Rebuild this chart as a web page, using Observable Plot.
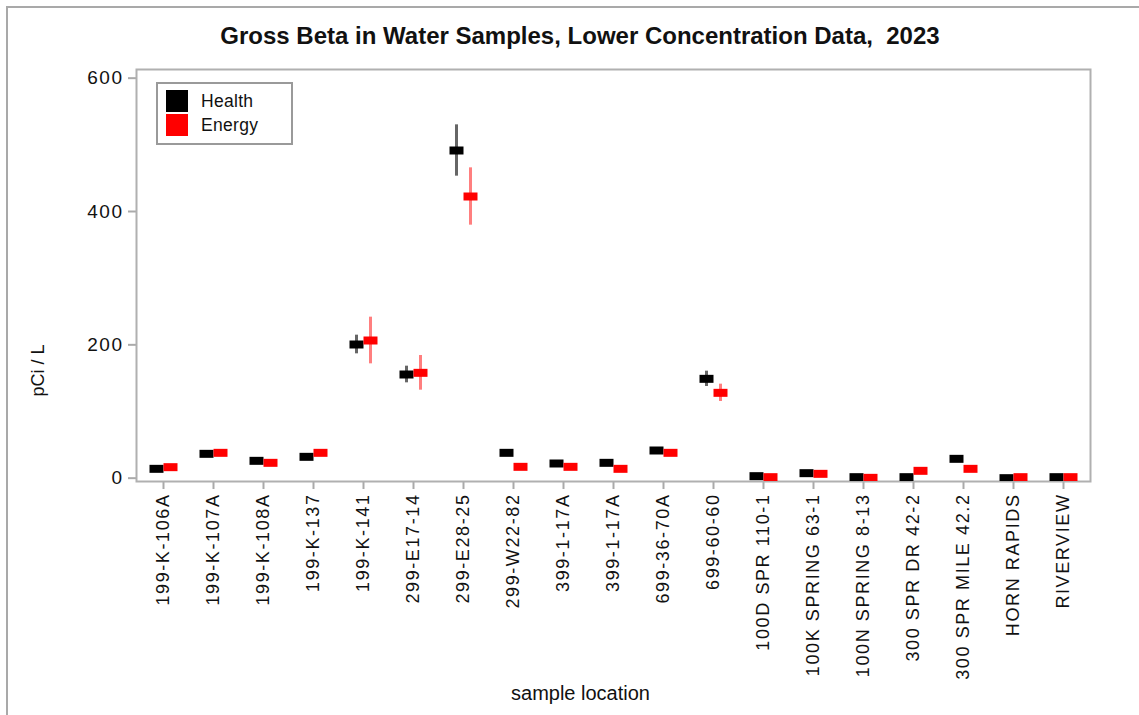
<!DOCTYPE html>
<html>
<head>
<meta charset="utf-8">
<script src="https://cdn.jsdelivr.net/npm/d3@7"></script>
<script src="https://cdn.jsdelivr.net/npm/@observablehq/plot@0.6"></script>
<style>
  html, body { margin: 0; padding: 0; background: #fff; }
  #wrap { position: relative; width: 1139px; height: 715px; overflow: hidden; font-family: "Liberation Sans", Arial, sans-serif; }
  #title { position: absolute; left: 0; top: 0; width: 1139px; height: 60px; box-sizing: border-box; padding-left: 21px; padding-top: 22px; text-align: center; font-weight: bold; font-size: 24px; color: #111; }
  #chart { position: absolute; left: 0; top: 60px; }
  #chart g[aria-label="x-axis tick label"] text { letter-spacing: 1.6px; }
  #chart g[aria-label="y-axis tick label"] text { letter-spacing: 1.5px; }
  .bl { position: absolute; background: #a9a9a9; }
  #legend { position: absolute; left: 156px; top: 82px; width: 133px; height: 59px; border: 2px solid #9a9a9a; background: #fff; }
  .sw { position: absolute; left: 8px; width: 22px; height: 22px; }
  .lt { position: absolute; left: 43px; font-size: 17.5px; color: #111; line-height: 22px; letter-spacing: 0.3px; }
</style>
</head>
<body>
<div id="wrap">
  <div class="bl" style="left:6px;top:6px;width:1133px;height:2px;"></div>
  <div class="bl" style="left:6px;top:6px;width:2px;height:709px;"></div>
  <div id="title">Gross Beta in Water Samples, Lower Concentration Data,&nbsp; 2023</div>
  <div id="chart"></div>
  <div id="legend">
    <div class="sw" style="top:6px;background:#000;"></div>
    <div class="lt" style="top:6px;">Health</div>
    <div class="sw" style="top:30px;background:#ff0000;"></div>
    <div class="lt" style="top:30px;">Energy</div>
  </div>
</div>
<script>
const locations = ["199-K-106A","199-K-107A","199-K-108A","199-K-137","199-K-141","299-E17-14","299-E28-25","299-W22-82","399-1-17A","399-1-17A","699-36-70A","699-60-60","100D SPR 110-1","100K SPRING 63-1","100N SPRING 8-13","300 SPR DR 42-2","300 SPR MILE 42.2","HORN RAPIDS","RIVERVIEW"];
const health    = [14, 36.5, 26, 32, 200.5, 155.5, 491.5, 38, 22, 23, 41.5, 149, 3, 7.5, 1.5, 1.5, 29, 0, 1.5];
const healthErr = [3, 3, 3, 3, 14, 12.5, 38.5, 3, 3, 3, 3, 11.5, 2, 2, 2, 2, 2, 2, 2];
const energy    = [16.5, 38, 23, 38, 206.5, 158, 422.5, 17, 17, 14, 38, 128, 1.5, 6.5, 0.5, 11, 14, 1.5, 1.5];
const energyErr = [3, 4, 3, 3, 35, 26, 43, 3, 3, 3, 4, 13, 2, 5, 2, 3, 3, 2, 2];
const sources = ["Health", "Energy"];
const yTicks = [0, 200, 400, 600];

const idx = d3.range(locations.length);
const rows = idx.flatMap(i => [
  {i, src: "Health", v: health[i], lo: health[i] - healthErr[i], hi: health[i] + healthErr[i]},
  {i, src: "Energy", v: energy[i], lo: energy[i] - energyErr[i], hi: energy[i] + energyErr[i]}
]);
const H = rows.filter(d => d.src === "Health");
const E = rows.filter(d => d.src === "Energy");
const rectSym = { draw(ctx) { ctx.rect(-7, -4, 14, 8); } };

const chart = Plot.plot({
  width: 1139, height: 655,
  marginLeft: 136, marginRight: 49, marginTop: 9, marginBottom: 234,
  style: { fontFamily: "'Liberation Sans', Arial, sans-serif", fontSize: "18px", color: "#111", background: "transparent", overflow: "visible" },
  x: { type: "band", domain: idx, padding: 0, axis: null },
  y: { domain: [-5, 613], axis: null },
  marks: [
    Plot.axisX({ tickFormat: i => locations[i], tickRotate: -90, tickSize: 8, tickPadding: 4, stroke: "#aaa", strokeWidth: 2, fill: "#111", label: null, fontSize: 18 }),
    Plot.axisY({ ticks: yTicks, tickSize: 8, tickPadding: 5, stroke: "#aaa", strokeWidth: 2, fill: "#111", label: null, fontSize: 19 }),
    Plot.frame({ stroke: "#b0b0b0", strokeWidth: 2 }),
    Plot.ruleX(H, { x: "i", y1: "lo", y2: "hi", dx: -7, stroke: "#000", strokeOpacity: 0.6, strokeWidth: 3, clip: true }),
    Plot.ruleX(E, { x: "i", y1: "lo", y2: "hi", dx: 7, stroke: "#ff0000", strokeOpacity: 0.5, strokeWidth: 3, clip: true }),
    Plot.dot(H, { x: "i", y: "v", dx: -7, symbol: rectSym, fill: "#000", stroke: null, clip: true }),
    Plot.dot(E, { x: "i", y: "v", dx: 7, symbol: rectSym, fill: "#ff0000", stroke: null, clip: true }),
    Plot.text(["sample location"], { frameAnchor: "bottom", dy: 218, dx: -33, fontSize: 20, fill: "#111" }),
    Plot.text(["pCi / L"], { frameAnchor: "left", rotate: -90, dx: -98, dy: 121, fontSize: 18, fill: "#111" })
  ]
});
document.getElementById("chart").appendChild(chart);
</script>
</body>
</html>
